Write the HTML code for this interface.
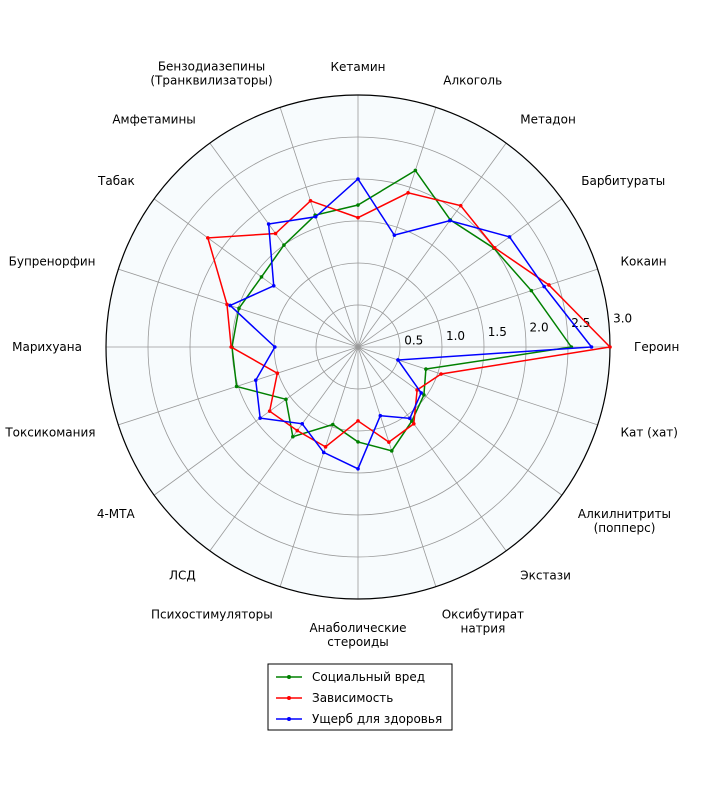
<!DOCTYPE html>
<html><head><meta charset="utf-8">
<style>
body{margin:0;background:#fff;}
svg text{font-family:"DejaVu Sans","Liberation Sans",sans-serif;font-size:12px;fill:#000;}
</style></head>
<body>
<svg id="chart" width="720" height="780" xmlns="http://www.w3.org/2000/svg">
<g id="grid"></g>
<g id="series"></g>
<g id="labels"></g>
<g>
<rect x="268" y="664" width="184" height="66" fill="#fff" stroke="#000" stroke-width="1"/>
<g><line x1="276" y1="677" x2="302" y2="677" stroke="green" stroke-width="1.5"/><circle cx="289" cy="677" r="2" fill="green"/><text x="312" y="681">Социальный вред</text></g>
<g><line x1="276" y1="698" x2="302" y2="698" stroke="red" stroke-width="1.5"/><circle cx="289" cy="698" r="2" fill="red"/><text x="312" y="702">Зависимость</text></g>
<g><line x1="276" y1="719" x2="302" y2="719" stroke="blue" stroke-width="1.5"/><circle cx="289" cy="719" r="2" fill="blue"/><text x="312" y="723">Ущерб для здоровья</text></g>
</g>
</svg>
<script>
const categories=["Героин","Кокаин","Барбитураты","Метадон","Алкоголь","Кетамин","Бензодиазепины\n(Транквилизаторы)","Амфетамины","Табак","Бупренорфин","Марихуана","Токсикомания","4-МТА","ЛСД","Психостимуляторы","Анаболические\nстероиды","Оксибутират\nнатрия","Экстази","Алкилнитриты\n(попперс)","Кат (хат)"];
const socialHarm=[2.54,2.17,2.0,1.87,2.21,1.69,1.65,1.50,1.42,1.49,1.50,1.52,1.06,1.32,0.97,1.13,1.30,1.09,0.97,0.85];
const dependence=[3.0,2.39,2.01,2.08,1.93,1.54,1.83,1.67,2.21,1.64,1.51,1.01,1.30,1.23,1.25,0.88,1.19,1.13,0.87,1.04];
const healthHarm=[2.78,2.33,2.23,1.86,1.40,2.00,1.63,1.81,1.24,1.60,0.99,1.28,1.44,1.13,1.32,1.45,0.86,1.05,0.93,0.50];
const ringTicks=[0.5,1.0,1.5,2.0,2.5,3.0];
const cx=358,cy=347,R=252,maxV=3;
const ns="http://www.w3.org/2000/svg";
function rs(v){return v/maxV*R;}
function ang(i){return i*2*Math.PI/categories.length;}
function pt(i,v){const a=ang(i),r=rs(v);return [cx+r*Math.cos(a),cy-r*Math.sin(a)];}
function mk(tag,attrs,parent){const e=document.createElementNS(ns,tag);for(const k in attrs)e.setAttribute(k,attrs[k]);parent.appendChild(e);return e;}
const grid=document.getElementById('grid');
const bg=mk('circle',{cx:cx,cy:cy,r:R,fill:'#f7fbfd'},grid);


categories.forEach((c,i)=>{const [x,y]=pt(i,maxV);const l=mk('line',{x1:cx,y1:cy,x2:x,y2:y,stroke:'#999','stroke-width':0.8},grid);

});
ringTicks.forEach((t,k)=>{const last=k===ringTicks.length-1;
const c=mk('circle',{cx:cx,cy:cy,r:rs(t),fill:'none',stroke:last?'#000':'#999','stroke-width':last?1.2:0.8},grid);


const a=6*Math.PI/180;const r=rs(t);
const tx=mk('text',{x:cx+r*Math.cos(a)+14,y:cy-r*Math.sin(a)+2,'text-anchor':'middle'},grid);
tx.textContent=t.toFixed(1);

});
const sg=document.getElementById('series');
[[socialHarm,'green','social'],[dependence,'red','dependence'],[healthHarm,'blue','health']].forEach(([vals,col,nm])=>{
const pts=vals.map((v,i)=>pt(i,v));
const p=mk('polygon',{points:pts.map(q=>q.join(',')).join(' '),fill:'none',stroke:col,'stroke-width':1.5},sg);


pts.forEach(q=>{const d=mk('circle',{cx:q[0],cy:q[1],r:1.8,fill:col},sg);

});});
const lg=document.getElementById('labels');
categories.forEach((c,i)=>{const a=ang(i),co=Math.cos(a),si=Math.sin(a);const r=R+24;
let x=cx+r*co,y=cy-r*si;const anchor=co>0.15?'start':(co<-0.15?'end':'middle');
const lines=c.split('\n');const lh=14;let y0=y+4-(lines.length-1)*lh/2;
if(si>0.5)y0=y-(lines.length-1)*lh; if(si<-0.5)y0=y+9;
if(lines.length>1 && anchor!=='middle'){
  const w=Math.max(...lines.map(s=>s.length))*7.2;
  x=anchor==='start'?x+w/2:x-w/2;
}
const t=mk('text',{x:x,y:y0,'text-anchor':lines.length>1?'middle':anchor},lg);


lines.forEach((s,j)=>{const ts=mk('tspan',{x:x,dy:j?lh:0},t);ts.textContent=s;});});
</script>
</body></html>
